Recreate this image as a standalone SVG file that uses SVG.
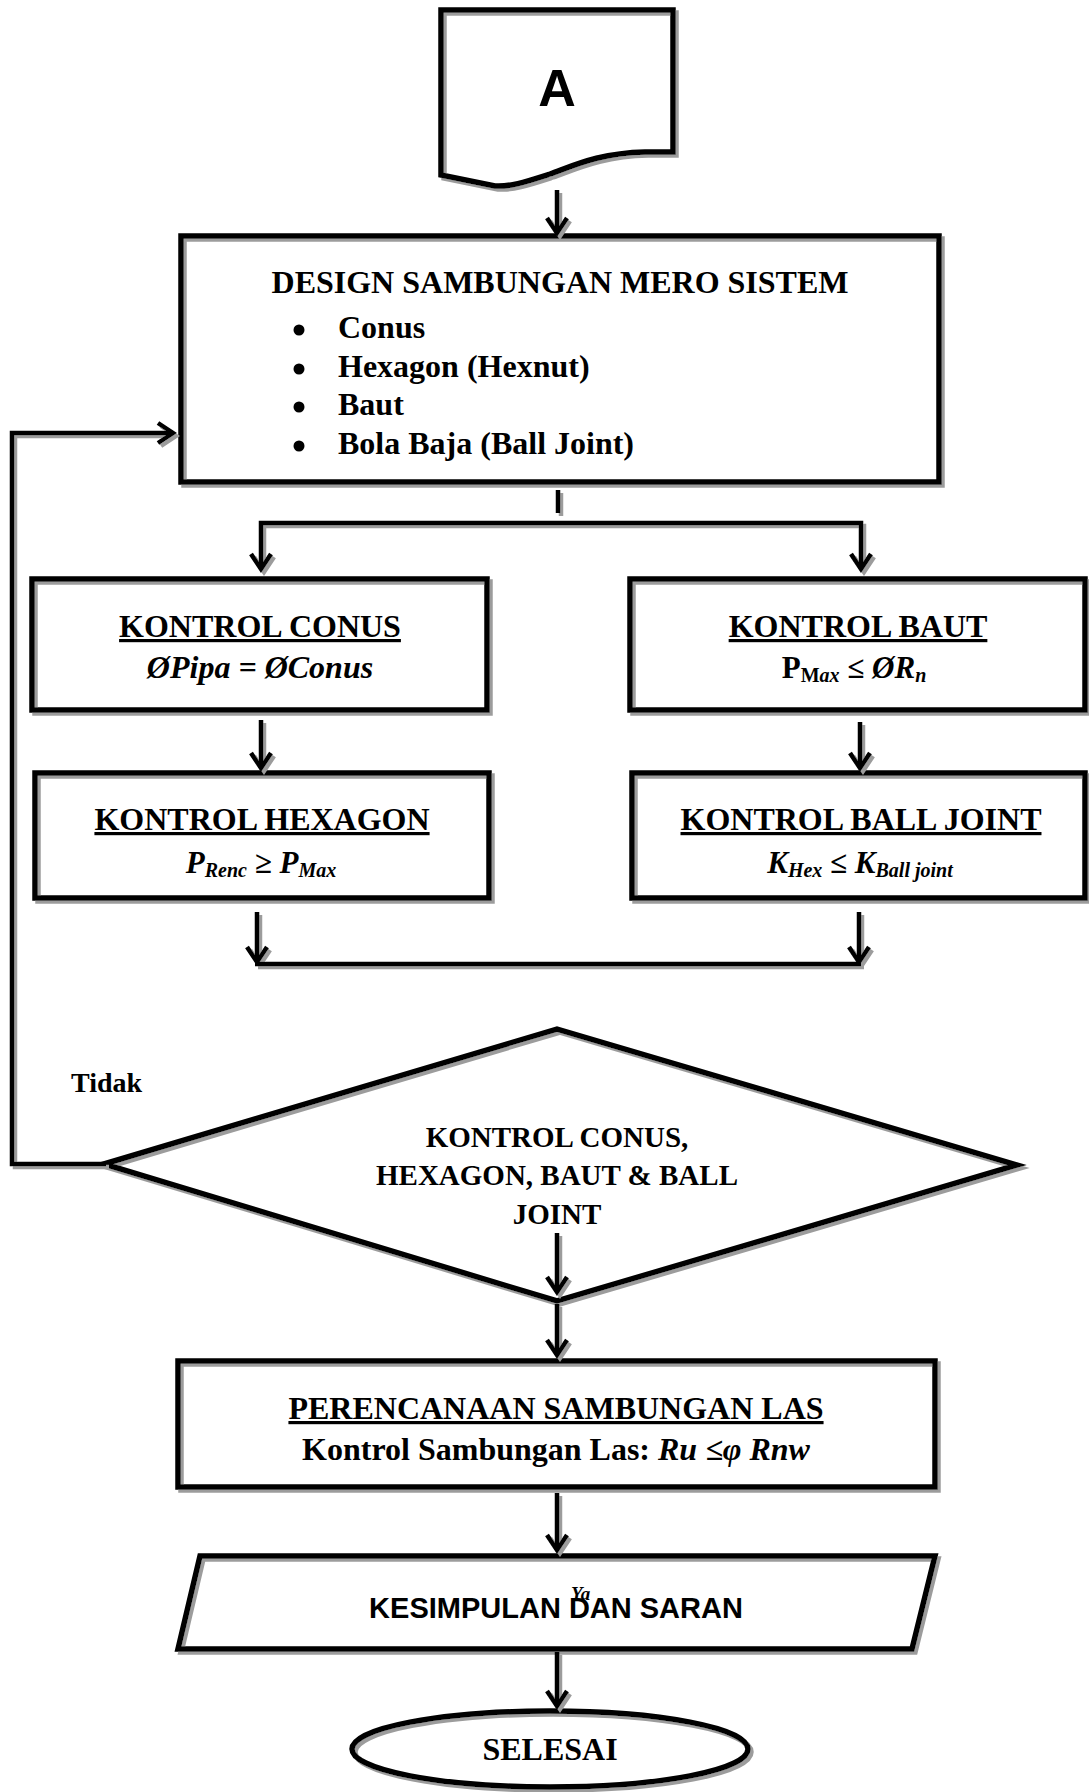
<svg xmlns="http://www.w3.org/2000/svg" width="1089" height="1792" viewBox="0 0 1089 1792">
  <defs>
    <style>
      .bg { fill: #ffffff; stroke: none; }
      .ol { fill: none; stroke: #000; stroke-width: 5.5; stroke-linejoin: miter; }
      .ln { fill: none; stroke: #000; stroke-width: 4.5; stroke-linecap: butt; }
      .t { font-family: "Liberation Serif", "Times New Roman", serif; font-weight: bold; fill: #000; }
      .s { font-family: "Liberation Sans", Arial, sans-serif; font-weight: bold; fill: #000; }
      .hd { font-size: 32px; text-decoration: underline; }
      .it { font-style: italic; }
      .sub { font-size: 20px; }
    </style>
    <!-- grey drop shadow under outlines and connectors -->
    <filter id="sh" filterUnits="userSpaceOnUse" x="0" y="0" width="1089" height="1792">
      <feOffset in="SourceAlpha" dx="3" dy="3" result="o"/>
      <feFlood flood-color="#9c9c9c" result="c"/>
      <feComposite in="c" in2="o" operator="in" result="s"/>
      <feMerge><feMergeNode in="s"/><feMergeNode in="SourceGraphic"/></feMerge>
    </filter>
    <!-- open chevron arrowhead -->
    <marker id="ah" viewBox="-20 -14 24 28" refX="0" refY="0" markerWidth="24" markerHeight="28" markerUnits="userSpaceOnUse" orient="auto">
      <path d="M-15,-10 L0,0 L-15,10" fill="none" stroke="#000" stroke-width="4.5"/>
    </marker>
  </defs>

  <rect x="0" y="0" width="1089" height="1792" fill="#ffffff"/>

  <!-- off-page reference A -->
  <g id="node-a">
    <path class="bg" d="M441,10 H673 V152 H645 C600,153 575,165 550,174 C525,182 510,187 495,186 L441,175 Z"/>
    <path class="ol" filter="url(#sh)" d="M441,10 H673 V152 H645 C600,153 575,165 550,174 C525,182 510,187 495,186 L441,175 Z"/>
    <text class="s" x="557" y="106" font-size="52" text-anchor="middle">A</text>
  </g>

  <!-- design step -->
  <g id="node-design">
    <rect class="bg" x="181" y="236" width="758" height="246"/>
    <rect class="ol" filter="url(#sh)" x="181" y="236" width="758" height="246"/>
    <text class="t" x="560" y="293" font-size="32" text-anchor="middle">DESIGN SAMBUNGAN MERO SISTEM</text>
    <circle cx="299" cy="330" r="5.5"/>
    <circle cx="299" cy="369" r="5.5"/>
    <circle cx="299" cy="407" r="5.5"/>
    <circle cx="299" cy="446" r="5.5"/>
    <text class="t" x="338" y="338" font-size="32">Conus</text>
    <text class="t" x="338" y="377" font-size="32">Hexagon (Hexnut)</text>
    <text class="t" x="338" y="415" font-size="32">Baut</text>
    <text class="t" x="338" y="454" font-size="32">Bola Baja (Ball Joint)</text>
  </g>

  <!-- cone check -->
  <g id="node-conus">
    <rect class="bg" x="32" y="579" width="455" height="131"/>
    <rect class="ol" filter="url(#sh)" x="32" y="579" width="455" height="131"/>
    <text class="t hd" x="260" y="637" text-anchor="middle">KONTROL CONUS</text>
    <text class="t it" x="260" y="678" font-size="32" text-anchor="middle">ØPipa = ØConus</text>
  </g>

  <!-- bolt check -->
  <g id="node-baut">
    <rect class="bg" x="630" y="579" width="455" height="131"/>
    <rect class="ol" filter="url(#sh)" x="630" y="579" width="455" height="131"/>
    <text class="t hd" x="858" y="637" text-anchor="middle">KONTROL BAUT</text>
    <text class="t" x="854" y="678" font-size="31" text-anchor="middle">P<tspan class="sub" dy="4">M<tspan class="it">ax</tspan></tspan><tspan dy="-4"> ≤ </tspan><tspan class="it">ØR</tspan><tspan class="sub it" dy="4">n</tspan></text>
  </g>

  <!-- hexagon nut check -->
  <g id="node-hexagon">
    <rect class="bg" x="35" y="773" width="454" height="125"/>
    <rect class="ol" filter="url(#sh)" x="35" y="773" width="454" height="125"/>
    <text class="t hd" x="262" y="830" text-anchor="middle">KONTROL HEXAGON</text>
    <text class="t it" x="261" y="873" font-size="31" text-anchor="middle">P<tspan class="sub" dy="4">Renc</tspan><tspan dy="-4" font-style="normal"> ≥ </tspan>P<tspan class="sub" dy="4">Max</tspan></text>
  </g>

  <!-- ball joint check -->
  <g id="node-balljoint">
    <rect class="bg" x="632" y="773" width="453" height="125"/>
    <rect class="ol" filter="url(#sh)" x="632" y="773" width="453" height="125"/>
    <text class="t hd" x="861" y="830" text-anchor="middle">KONTROL BALL JOINT</text>
    <text class="t it" x="860" y="873" font-size="31" text-anchor="middle">K<tspan class="sub" dy="4">Hex</tspan><tspan dy="-4" font-style="normal"> ≤ </tspan>K<tspan class="sub" dy="4">Ball joint</tspan></text>
  </g>

  <!-- decision -->
  <g id="node-decision">
    <polygon class="bg" points="104,1164 557,1029 1017,1165 557,1301"/>
    <polygon class="ol" filter="url(#sh)" points="104,1164 557,1029 1017,1165 557,1301"/>
    <text class="t" x="557" y="1147" font-size="29" text-anchor="middle">KONTROL CONUS,</text>
    <text class="t" x="557" y="1185" font-size="29" text-anchor="middle">HEXAGON, BAUT &amp; BALL</text>
    <text class="t" x="557" y="1224" font-size="29" text-anchor="middle">JOINT</text>
  </g>

  <!-- branch label -->
  <g id="label-tidak">
    <text class="t" x="71" y="1092" font-size="28">Tidak</text>
  </g>

  <!-- weld design -->
  <g id="node-las">
    <rect class="bg" x="178" y="1361" width="757" height="126"/>
    <rect class="ol" filter="url(#sh)" x="178" y="1361" width="757" height="126"/>
    <text class="t hd" x="556" y="1419" text-anchor="middle">PERENCANAAN SAMBUNGAN LAS</text>
    <text class="t" x="556" y="1460" font-size="32" text-anchor="middle">Kontrol Sambungan Las: <tspan class="it">Ru ≤φ Rnw</tspan></text>
  </g>

  <!-- conclusion -->
  <g id="node-kesimpulan">
    <polygon class="bg" points="200,1556 935,1556 912,1649 178,1649"/>
    <polygon class="ol" filter="url(#sh)" points="200,1556 935,1556 912,1649 178,1649"/>
    <text class="s" x="556" y="1618" font-size="29" text-anchor="middle">KESIMPULAN DAN SARAN</text>
    <text class="t it" x="571" y="1600" font-size="19" font-weight="normal">Ya</text>
  </g>

  <!-- end -->
  <g id="node-selesai">
    <ellipse class="bg" cx="550" cy="1749" rx="198" ry="38"/>
    <ellipse class="ol" filter="url(#sh)" cx="550" cy="1749" rx="198" ry="38"/>
    <text class="t" x="550" y="1760" font-size="32" text-anchor="middle">SELESAI</text>
  </g>

  <!-- connectors -->
  <g id="connectors" filter="url(#sh)">
    <path class="ln" d="M557,190 V233" marker-end="url(#ah)"/>
    <path class="ln" d="M558,490 V513"/>
    <path class="ln" d="M557,523 H261 V569" marker-end="url(#ah)"/>
    <path class="ln" d="M557,523 H861 V569" marker-end="url(#ah)"/>
    <path class="ln" d="M261,720 V768" marker-end="url(#ah)"/>
    <path class="ln" d="M860,722 V768" marker-end="url(#ah)"/>
    <path class="ln" d="M257,912 V962" marker-end="url(#ah)"/>
    <path class="ln" d="M859,912 V962" marker-end="url(#ah)"/>
    <path class="ln" d="M255,964 H861"/>
    <path class="ln" d="M557,1233 V1292" marker-end="url(#ah)"/>
    <path class="ln" d="M557,1304 V1355" marker-end="url(#ah)"/>
    <path class="ln" d="M557,1493 V1550" marker-end="url(#ah)"/>
    <path class="ln" d="M557,1652 V1706" marker-end="url(#ah)"/>
    <path class="ln" d="M106,1164 H12 V433 H173" marker-end="url(#ah)"/>
  </g>
</svg>
